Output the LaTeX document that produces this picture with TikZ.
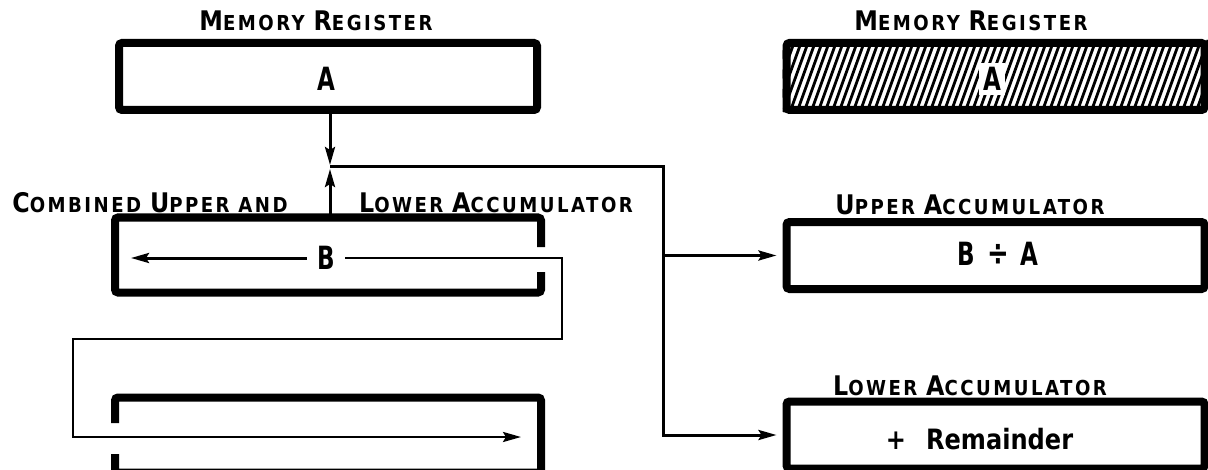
\documentclass[tikz,border=0pt]{standalone}
\usepackage{fontspec}
\usepackage{tikz}
\usetikzlibrary{arrows.meta,positioning}
\setmainfont{DejaVu Sans}
\newfontfamily\lblfont[LetterSpace=12,FakeStretch=0.88]{DejaVu Sans}
\newfontfamily\boxfont[FakeStretch=0.72]{DejaVu Sans}
\newfontfamily\remfont[FakeStretch=0.86]{DejaVu Sans}
\newcommand\capword[2]{{\fontsize{13.5}{14}\selectfont #1}#2}

\begin{document}
\begin{tikzpicture}[x=0.5pt, y=-0.5pt,
  reg/.style={draw, minimum width=209pt, minimum height=33.5pt, inner sep=0pt, line width=4pt, rounded corners=1.5pt},
  edge/.style={line width=4pt, rounded corners=1.5pt},
  lbl/.style={font=\lblfont\bfseries\fontsize{10.3}{11}\selectfont, inner sep=0pt},
  val/.style={font=\boxfont\bfseries\fontsize{16}{17}\selectfont, inner sep=1pt},
  flow/.style={line width=1.5pt, -{Stealth[length=9pt,width=5pt,inset=1.5pt]}},
  wire/.style={line width=1.3pt},
  hatch/.style={line width=1.4pt}
]
  \fill[white] (0,0) rectangle (1208,470);
  \useasboundingbox (0,0) rectangle (1208,470);

  % left column
  \node[lbl] (memlbl) at (316,21) {\capword{M}{EMORY} \capword{R}{EGISTER}};
  \node[reg] (mem) at (328,76.5) {};
  \node[val] (memval) at (326.5,78.5) {A};

  \node[lbl] (comblbl) at (150,203) {\capword{C}{OMBINED} \capword{U}{PPER AND}};
  \node[lbl] (comblbl2) at (496,203) {\capword{L}{OWER} \capword{A}{CCUMULATOR}};
  \node[reg, draw=none] (comb) at (328,255) {};
  \draw[edge] (comb.east) ++(0,-8) -- (comb.north east) -- (comb.north west)
    -- (comb.south west) -- (comb.south east) -- ++(0,-20.5);
  \node[val, inner xsep=5pt] (bval) at (326,258) {B};

  \node[reg, draw=none] (low) at (328,435) {};
  \draw[edge] (low.west) ++(0,-12) -- (low.north west) -- (low.north east)
    -- (low.south east) -- (low.south west) -- ++(0,-18.5);

  % right column
  \node[lbl] (rmemlbl) at (971,21) {\capword{M}{EMORY} \capword{R}{EGISTER}};
  \node[reg] (rmem) at (995.5,76.5) {};
  \begin{scope}
    \clip (rmem.north west) rectangle (rmem.south east);
    \foreach \hx in {755,762,...,1220}
      \draw[hatch] (\hx,112) -- ++(26,-72);
  \end{scope}
  \node[val, fill=white, inner sep=2pt] (rmemval) at (992,79) {A};

  \node[lbl] (uacclbl) at (970,205) {\capword{U}{PPER} \capword{A}{CCUMULATOR}};
  \node[reg] (uacc) at (995.5,255.5) {};
  \node[val] (quot) at (998,253.5) {B\hspace{6pt}{\fontsize{18}{18}\selectfont ÷}\hspace{6pt}A};

  \node[lbl] (lacclbl) at (970,386) {\capword{L}{OWER} \capword{A}{CCUMULATOR}};
  \node[reg] (lacc) at (995.5,435) {};
  \node[val, font=\remfont\bfseries\fontsize{14}{15}\selectfont] (rem) at (979.5,439) {+\hspace{10pt}Remainder};

  % connectors
  \coordinate (jn) at (330,167);
  \coordinate (drop) at (663,167);
  \coordinate (bleft) at (131,258);
  \coordinate (turnR) at (562,339);
  \coordinate (turnL) at (73,339);
  \coordinate (btip) at (521,437);

  \draw[flow] (jn |- mem.south) -- ([yshift=1pt]jn);
  \draw[flow] (jn |- comb.north) -- ([yshift=-1pt]jn);
  \draw[flow, shorten >=3pt] (jn) -- (drop) |- (lacc.west);
  \draw[flow, shorten >=3pt] (drop |- uacc.west) -- (uacc.west);

  \draw[flow] (bval.west) -- (bleft);
  \draw[wire, -{Stealth[length=9pt,width=5pt,inset=1.5pt]}] (bval.east) -| (turnR) -- (turnL) |- (btip);
\end{tikzpicture}
\end{document}
